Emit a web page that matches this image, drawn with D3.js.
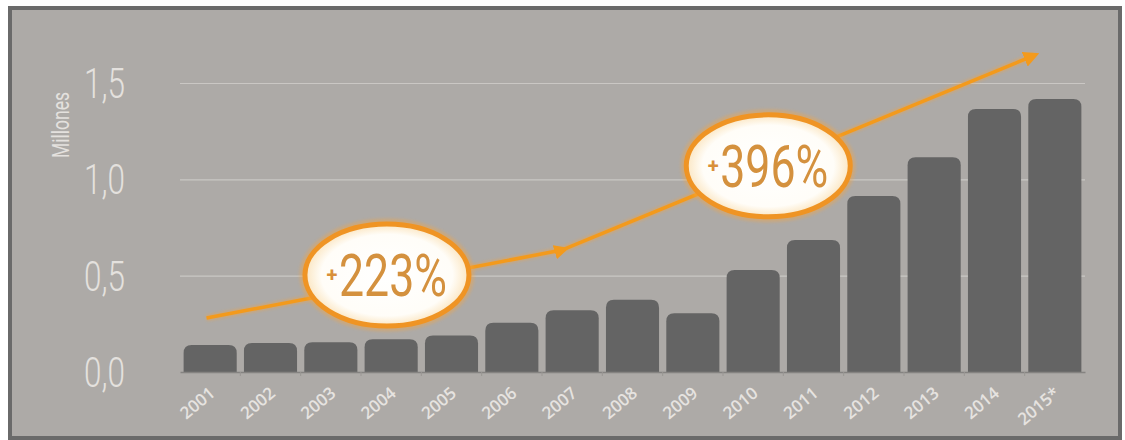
<!DOCTYPE html>
<html>
<head>
<meta charset="utf-8">
<script src="https://cdn.jsdelivr.net/npm/d3@7/dist/d3.min.js"></script>
<style>
  html, body { margin: 0; padding: 0; background: #ffffff; }
  svg { display: block; }
</style>
</head>
<body>
<script>
// ---- data ----
const years = ["2001","2002","2003","2004","2005","2006","2007","2008","2009","2010","2011","2012","2013","2014","2015*"];
const values = [0.14, 0.15, 0.155, 0.17, 0.19, 0.255, 0.32, 0.375, 0.305, 0.53, 0.685, 0.913, 1.115, 1.365, 1.417];
const yTicks = [0, 0.5, 1.0, 1.5];
const yTickLabels = ["0,0", "0,5", "1,0", "1,5"];
const yTitle = "Millones";
// trend arrow (position in category-index units, value in millions)
const trendIndex = [-0.06, 5.83, 13.67];
const trendValues = [0.28, 0.633, 1.645];
// growth badges
const badgeLabels = ["223%", "396%"];
const badgeIndex = [2.93, 9.25];
const badgeValues = [0.503, 1.07];

const W = 1125, H = 440;
const svg = d3.select("body").append("svg").attr("width", W).attr("height", H);
const defs = svg.append("defs");

const grad = defs.append("radialGradient").attr("id", "badgeFill");
grad.append("stop").attr("offset", "0%").attr("stop-color", "#ffffff");
grad.append("stop").attr("offset", "80%").attr("stop-color", "#fffdf8");
grad.append("stop").attr("offset", "100%").attr("stop-color", "#fbe6c2");

const blur = defs.append("filter").attr("id", "glow").attr("x", "-20%").attr("y", "-20%").attr("width", "140%").attr("height", "140%");
blur.append("feGaussianBlur").attr("stdDeviation", 1.6);

defs.append("marker").attr("id", "arrowMid").attr("viewBox", "0 0 10 10")
  .attr("refX", 5).attr("refY", 5).attr("markerWidth", 4.2).attr("markerHeight", 4.2)
  .attr("orient", "auto").attr("markerUnits", "strokeWidth")
  .append("path").attr("d", "M0,0 L10,5 L0,10 Z").attr("fill", "#f39a1c");
defs.append("marker").attr("id", "arrowEnd").attr("viewBox", "0 0 10 10")
  .attr("refX", 7).attr("refY", 5).attr("markerWidth", 4.5).attr("markerHeight", 4.5)
  .attr("orient", "auto").attr("markerUnits", "strokeWidth")
  .append("path").attr("d", "M0,0 L10,5 L0,10 Z").attr("fill", "#f39a1c");

// frame
svg.append("rect").attr("x", 10).attr("y", 8).attr("width", 1110).attr("height", 430)
  .attr("fill", "#adaaa7").attr("stroke", "#6a6a6a").attr("stroke-width", 4);

// scales
const x = d3.scaleBand().domain(years).range([180, 1085]).paddingInner(0.12).paddingOuter(0.06);
const y = d3.scaleLinear().domain([0, 1.5]).range([372, 83]);
const bw = x.bandwidth();
const xi = d3.scaleLinear().domain([0, years.length - 1])
  .range([x(years[0]) + bw / 2, x(years[years.length - 1]) + bw / 2]);

// gridlines
const yAxis = d3.axisLeft(y).tickValues(yTicks).tickSize(-(1085 - 180)).tickFormat("");
const gGrid = svg.append("g").attr("transform", "translate(180,0)").call(yAxis);
gGrid.select(".domain").remove();
gGrid.selectAll(".tick line").attr("stroke", "#cac7c4").attr("stroke-width", 1.2)
  .attr("opacity", d => d === 0 ? 0 : 1);

// y tick labels
svg.append("g").selectAll("text").data(yTicks).join("text")
  .attr("x", 125).attr("y", d => y(d) + 15)
  .attr("text-anchor", "end")
  .attr("font-family", "Roboto, 'DejaVu Sans', sans-serif")
  .attr("font-size", 43).attr("font-weight", 300)
  .attr("fill", "#e4e1de")
  .attr("textLength", 41).attr("lengthAdjust", "spacingAndGlyphs")
  .text((d, i) => yTickLabels[i]);

// y title
svg.append("text")
  .attr("transform", "translate(69,125) rotate(-90)")
  .attr("text-anchor", "middle")
  .attr("font-family", "Roboto, 'DejaVu Sans', sans-serif")
  .attr("font-size", 23).attr("font-weight", 400)
  .attr("fill", "#e4e1de")
  .attr("textLength", 66).attr("lengthAdjust", "spacingAndGlyphs")
  .text(yTitle);

// bars with rounded tops
const r = 8;
function barPath(d, i) {
  const x0 = x(years[i]), x1 = x0 + bw, yt = y(d), yb = y(0);
  return `M${x0},${yb} V${yt + r} Q${x0},${yt} ${x0 + r},${yt} H${x1 - r} Q${x1},${yt} ${x1},${yt + r} V${yb} Z`;
}
svg.append("g").selectAll("path").data(values).join("path")
  .attr("d", barPath).attr("fill", "#646464");

// x axis
const xAxis = d3.axisBottom(x).tickSize(0).tickFormat("");
const gx = svg.append("g").attr("transform", `translate(0,${y(0)})`).call(xAxis);
gx.select(".domain").attr("stroke", "#858381").attr("stroke-width", 1.5);
svg.append("g").selectAll("line").data(years.slice(1)).join("line")
  .attr("x1", d => x(d) - x.step() * 0.06).attr("x2", d => x(d) - x.step() * 0.06)
  .attr("y1", y(0)).attr("y2", y(0) + 4).attr("stroke", "#9a9794").attr("stroke-width", 1);

// x labels
svg.append("g").selectAll("text").data(years).join("text")
  .attr("transform", d => `translate(${x(d) + bw / 2 + 6},${y(0) + 23}) rotate(-40)`)
  .attr("text-anchor", "end")
  .attr("font-family", "'Open Sans', 'DejaVu Sans', sans-serif")
  .attr("font-size", 17).attr("font-weight", 600)
  .attr("fill", "#e6e3e0")
  .text(d => d);

// trend line
const trendPts = trendIndex.map((t, i) => [xi(t), y(trendValues[i])]);
const line = d3.line();
svg.append("path").attr("d", line(trendPts)).attr("fill", "none")
  .attr("stroke", "#f6a23a").attr("stroke-width", 6).attr("opacity", 0.45).attr("filter", "url(#glow)");
svg.append("path").attr("d", line(trendPts)).attr("fill", "none")
  .attr("stroke", "#f39a1c").attr("stroke-width", 3.5)
  .attr("marker-mid", "url(#arrowMid)").attr("marker-end", "url(#arrowEnd)");

// badges
const badges = svg.append("g").selectAll("g").data(badgeLabels).join("g")
  .attr("transform", (d, i) => `translate(${xi(badgeIndex[i])},${y(badgeValues[i])})`);
badges.append("ellipse").attr("rx", 84).attr("ry", 53)
  .attr("fill", "none").attr("stroke", "#f6a540").attr("stroke-width", 7).attr("opacity", 0.4)
  .attr("filter", "url(#glow)");
badges.append("ellipse").attr("rx", 82).attr("ry", 51)
  .attr("fill", "url(#badgeFill)").attr("stroke", "#ef9424").attr("stroke-width", 5);
badges.append("text")
  .attr("x", -55).attr("y", 0)
  .attr("text-anchor", "middle").attr("dominant-baseline", "central")
  .attr("font-family", "Roboto, 'DejaVu Sans', sans-serif")
  .attr("font-size", 20).attr("font-weight", 700)
  .attr("fill", "#d9903a")
  .text("+");
badges.append("text")
  .attr("x", -48).attr("y", 21)
  .attr("font-family", "Roboto, 'DejaVu Sans', sans-serif")
  .attr("font-size", 60).attr("font-weight", 400)
  .attr("fill", "#d4913e")
  .attr("textLength", 108).attr("lengthAdjust", "spacingAndGlyphs")
  .text(d => d);
</script>
</body>
</html>
